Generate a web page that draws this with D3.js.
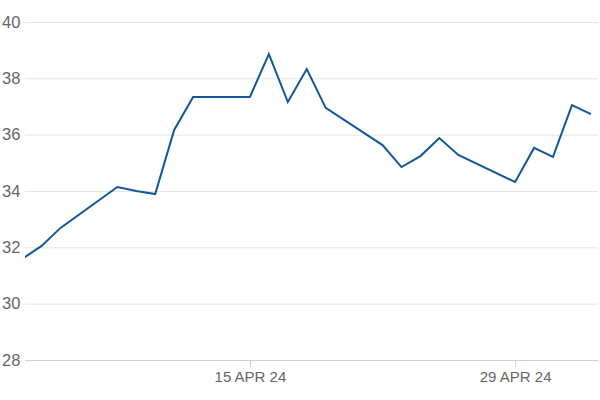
<!DOCTYPE html>
<html>
<head>
<meta charset="utf-8">
<script src="https://cdn.jsdelivr.net/npm/d3@7"></script>
<style>
  body { margin: 0; background: #fff; }
  .axis text { font-family: "Liberation Sans", Arial, sans-serif; fill: #666; }
</style>
</head>
<body>
<div id="chart"></div>
<script>
// Chart size and margins
var svgWidth = 600;
var svgHeight = 400;

var margin = { top: 22, right: 2, bottom: 40, left: 25 };

var width = svgWidth - margin.left - margin.right;
var height = svgHeight - margin.top - margin.bottom;

// Data
var dates = [
    "2024-04-03", "2024-04-04", "2024-04-05", "2024-04-08", "2024-04-09",
    "2024-04-10", "2024-04-11", "2024-04-12", "2024-04-15", "2024-04-16",
    "2024-04-17", "2024-04-18", "2024-04-19", "2024-04-22", "2024-04-23",
    "2024-04-24", "2024-04-25", "2024-04-26", "2024-04-29", "2024-04-30",
    "2024-05-01", "2024-05-02", "2024-05-03"
];
var values = [
    31.60, 32.05, 32.69, 34.14, 34.00,
    33.89, 36.17, 37.34, 37.34, 38.86,
    37.16, 38.33, 36.95, 35.63, 34.85,
    35.24, 35.88, 35.28, 34.32, 35.53,
    35.21, 37.05, 36.73
];
var yTicks = [28, 30, 32, 34, 36, 38, 40];
var xTickDates = ["2024-04-15", "2024-04-29"];

var parseDate = d3.timeParse("%Y-%m-%d");
var data = dates.map(function(d, i) {
    return { date: parseDate(d), value: values[i] };
});

var svg = d3.select("#chart")
    .append("svg")
    .attr("width", svgWidth)
    .attr("height", svgHeight);

var chartGroup = svg.append("g")
    .attr("transform", `translate(${margin.left}, ${margin.top})`);

// Scales
var xScale = d3.scaleTime()
    .domain([new Date(2024, 3, 3, 3), new Date(2024, 4, 3, 9)])
    .range([0, width]);

var yScale = d3.scaleLinear()
    .domain([28, 40])
    .range([height, 0]);

// Horizontal gridlines with labels
var leftAxis = d3.axisLeft(yScale)
    .tickValues(yTicks)
    .tickSize(-width)
    .tickFormat(d3.format("d"));

var yAxisGroup = chartGroup.append("g")
    .attr("class", "axis")
    .call(leftAxis);

yAxisGroup.select(".domain").remove();
yAxisGroup.selectAll("line").attr("stroke", "#e5e5e5");
yAxisGroup.selectAll("text")
    .attr("x", -23)
    .attr("text-anchor", "start")
    .attr("font-size", "16.5px");

// Bottom axis
var bottomAxis = d3.axisBottom(xScale)
    .tickValues(xTickDates.map(parseDate))
    .tickSize(7)
    .tickSizeOuter(0)
    .tickPadding(4)
    .tickFormat(function(d) { return d3.timeFormat("%d %b %y")(d).toUpperCase(); });

var xAxisGroup = chartGroup.append("g")
    .attr("class", "axis")
    .attr("transform", `translate(0, ${height})`)
    .call(bottomAxis);

xAxisGroup.select(".domain").attr("stroke", "#cdd3dc");
xAxisGroup.selectAll("line").attr("stroke", "#cdd3dc");
xAxisGroup.selectAll("text").attr("font-size", "15px");

// Clip the line to the plot area
chartGroup.append("clipPath")
    .attr("id", "plot-clip")
    .append("rect")
    .attr("width", width)
    .attr("height", height);

var line = d3.line()
    .x(d => xScale(d.date))
    .y(d => yScale(d.value));

chartGroup.append("path")
    .datum(data)
    .attr("clip-path", "url(#plot-clip)")
    .attr("fill", "none")
    .attr("stroke", "#12579a")
    .attr("stroke-width", 2)
    .attr("stroke-linejoin", "miter")
    .attr("d", line);
</script>
</body>
</html>
